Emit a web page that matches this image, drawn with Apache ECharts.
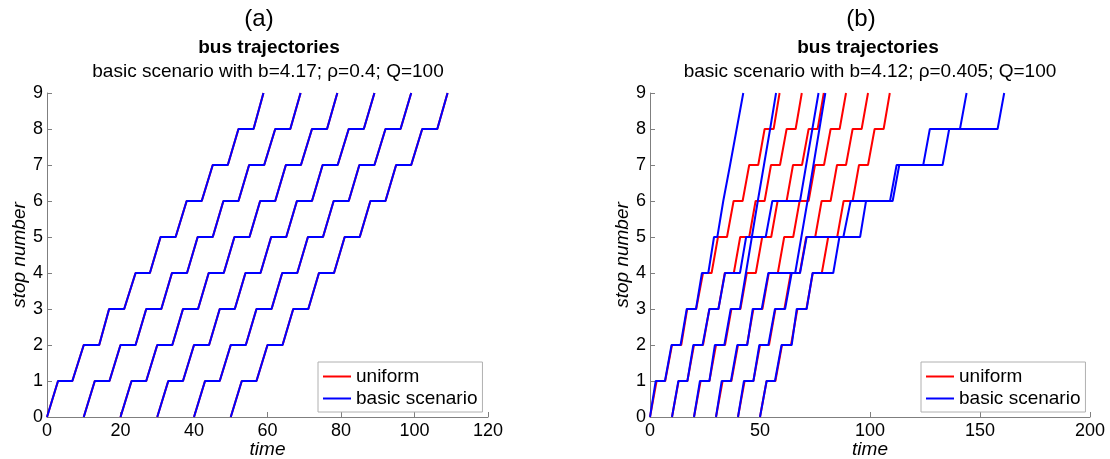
<!DOCTYPE html>
<html>
<head>
<meta charset="utf-8">
<script src="https://cdn.jsdelivr.net/npm/echarts@6/dist/echarts.min.js"></script>
<style>
html,body{margin:0;padding:0;background:#fff;}
#chart{width:1110px;height:459px;}
</style>
</head>
<body>
<div id="chart"></div>
<script>
// stop sequence for each trajectory point: depart 0, (arrive k, depart k) for k=1..8, arrive 9
const stopSeq = [0,1,1,2,2,3,3,4,4,5,5,6,6,7,7,8,8,9];

// Panel (a) and panel (b) "uniform": times (arrival / departure at each stop)
const uniform1 = [0, 3.0,6.9, 10.0,14.2, 16.9,21.0, 24.1,28.0, 30.9,35.0, 38.0,42.1, 45.1,49.2, 52.1,56.2, 58.9];
const uniform2 = [10, 13.0,17.0, 20.0,24.1, 27.0,31.1, 34.0,38.1, 41.0,45.1, 48.0,52.1, 55.0,59.1, 62.1,66.2, 69.0];
const uniform3 = [20, 23.0,27.0, 30.0,34.1, 37.0,41.1, 44.0,48.1, 51.0,55.1, 58.0,62.1, 65.0,69.1, 72.1,76.2, 79.0];
const uniform4 = [30, 33.0,37.0, 40.0,44.1, 47.0,51.1, 54.0,58.1, 61.0,65.1, 68.0,72.1, 75.0,79.1, 82.1,86.2, 89.1];
const uniform5 = [40, 43.0,47.0, 50.0,54.1, 57.0,61.1, 64.0,68.1, 71.0,75.1, 78.0,82.1, 85.0,89.1, 92.1,96.2, 99.1];
const uniform6 = [50, 53.0,57.0, 60.0,64.1, 67.0,71.1, 74.0,78.1, 81.0,85.1, 88.0,92.1, 95.0,99.1, 102.1,106.2, 109.0];

// Panel (b) "basic scenario" (bunching)
const basicB1 = [0, 2.6,6.8, 9.8,13.9, 16.7,20.9, 23.6,26.5, 29.1,30.6, 33.3,33.6, 36.4,36.6, 39.4,39.6, 42.4];
const basicB2 = [10, 12.9,17.0, 19.7,23.9, 27.0,31.1, 34.1,40.9, 43.7,52.6, 55.6,68.2, 71.0,71.2, 73.8,74.0, 76.6];
const basicB3 = [20, 22.7,27.0, 29.5,33.8, 36.7,40.9, 43.6,43.7, 46.3,46.4, 49.0,49.1, 51.8,51.9, 54.6,54.7, 57.3];
const basicB4 = [30, 32.6,36.8, 39.7,44.2, 46.7,50.8, 53.8,68.2, 71.2,87.9, 91.2,109.1, 112.1,124.2, 127.2,140.9, 143.9];
const basicB5 = [40, 42.7,47.0, 49.7,53.8, 56.8,61.4, 64.4,66.0, 68.8,68.9, 71.6,71.7, 74.3,74.4, 77.0,77.1, 79.7];
const basicB6 = [50, 53.0,56.8, 59.8,64.4, 66.7,71.2, 73.9,83.3, 86.1,95.5, 98.2,110.3, 113.3,133.0, 136.0,158.0, 161.0];

const xTicksA = {min:0, max:120, interval:20};
const xTicksB = {min:0, max:200, interval:50};
const yTicks = {min:0, max:9, interval:1};

const uniformA = [uniform1, uniform2, uniform3, uniform4, uniform5, uniform6];
const basicA = [uniform1, uniform2, uniform3, uniform4, uniform5, uniform6];
const uniformB = [uniform1, uniform2, uniform3, uniform4, uniform5, uniform6];
const basicB = [basicB1, basicB2, basicB3, basicB4, basicB5, basicB6];

const FONT = '"Liberation Sans", Arial, sans-serif';
const RED = '#ff0000', BLUE = '#0000ff', AXIS = '#7f7f7f';

function pts(times){ return times.map((t,i)=>[t, stopSeq[i]]); }
function mkSeries(list, name, color, gi){
  return list.map(times => ({
    type:'line', name:name, xAxisIndex:gi, yAxisIndex:gi,
    data: pts(times), showSymbol:false, symbol:'none',
    lineStyle:{color:color, width:2}, itemStyle:{color:color},
    animation:false, silent:true
  }));
}

function xAxis(gi, t){
  return {
    type:'value', gridIndex:gi, min:t.min, max:t.max, interval:t.interval,
    name:'time', nameLocation:'middle', nameGap:23, nameMoveOverlap:false,
    nameTextStyle:{fontFamily:FONT, fontSize:19, fontStyle:'italic', color:'#000'},
    axisLine:{show:true, lineStyle:{color:AXIS, width:1}},
    axisTick:{show:true, inside:true, length:5, lineStyle:{color:AXIS}},
    axisLabel:{fontFamily:FONT, fontSize:18, color:'#000', margin:5},
    splitLine:{show:false}
  };
}
function yAxis(gi, t){
  return {
    type:'value', gridIndex:gi, min:t.min, max:t.max, interval:t.interval,
    name:'stop number', nameLocation:'middle', nameGap:18, nameMoveOverlap:false,
    nameTextStyle:{fontFamily:FONT, fontSize:19, fontStyle:'italic', color:'#000'},
    axisLine:{show:true, lineStyle:{color:AXIS, width:1}},
    axisTick:{show:true, inside:true, length:5, lineStyle:{color:AXIS}},
    axisLabel:{fontFamily:FONT, fontSize:18, color:'#000', margin:4},
    splitLine:{show:false}
  };
}
function legend(left){
  return {
    left:left, top:362, orient:'vertical',
    data:['uniform','basic scenario'],
    icon:'rect', itemWidth:28, itemHeight:2, itemGap:3,
    backgroundColor:'#fff', borderColor:'#b0b0b0', borderWidth:1, borderRadius:0,
    padding:[5,5,4,5],
    textStyle:{fontFamily:FONT, fontSize:19, color:'#000'},
    selectedMode:false
  };
}
function txt(x, y, s, size, weight){
  return {type:'text', x:x, y:y, style:{text:s, textAlign:'center', textVerticalAlign:'middle',
    fontFamily:FONT, fontSize:size, fontWeight:weight||'normal', fill:'#000'}};
}

const chart = echarts.init(document.getElementById('chart'), null, {renderer:'canvas'});
chart.setOption({
  backgroundColor:'#fff',
  animation:false,
  grid:[
    {left:47, right:622, top:93, bottom:42, containLabel:false, outerBoundsMode:'none'},
    {left:650, right:20, top:93, bottom:42, containLabel:false, outerBoundsMode:'none'}
  ],
  xAxis:[xAxis(0, xTicksA), xAxis(1, xTicksB)],
  yAxis:[yAxis(0, yTicks), yAxis(1, yTicks)],
  legend:[legend(318), legend(921)],
  graphic:[
    txt(259, 19, '(a)', 24),
    txt(269, 48, 'bus trajectories', 19, 'bold'),
    txt(268, 72, 'basic scenario with b=4.17; \u03c1=0.4; Q=100', 19),
    txt(861, 19, '(b)', 24),
    txt(868, 48, 'bus trajectories', 19, 'bold'),
    txt(870, 72, 'basic scenario with b=4.12; \u03c1=0.405; Q=100', 19)
  ],
  series:[].concat(
    mkSeries(uniformA, 'uniform', RED, 0),
    mkSeries(basicA, 'basic scenario', BLUE, 0),
    mkSeries(uniformB, 'uniform', RED, 1),
    mkSeries(basicB, 'basic scenario', BLUE, 1)
  )
});
</script>
</body>
</html>
